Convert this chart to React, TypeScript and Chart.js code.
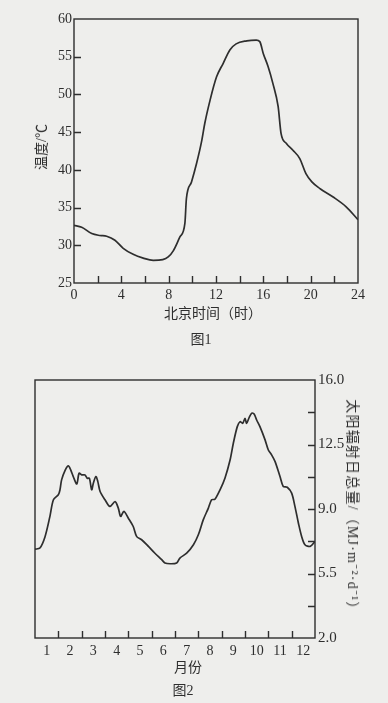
import React, { useEffect, useRef } from "react";
import { Chart, registerables } from "chart.js";

Chart.register(...registerables);

// ---------- Figure 1: temperature vs Beijing time ----------
const hours = [0, 0.65, 1.5, 2.2, 2.76, 3.46, 4.16, 5.0, 5.85, 6.7, 7.5, 7.96, 8.4, 8.95, 9.37, 9.5, 9.93, 10.35, 10.8, 11.05, 11.5, 12.04, 12.6, 13.17, 13.7, 14.6, 15.4, 15.7, 16.0, 16.4, 16.8, 17.25, 17.5, 17.95, 18.5, 19.08, 19.6, 20.1, 20.8, 21.9, 23.0, 24];
const temps = [32.65, 32.4, 31.55, 31.3, 31.2, 30.67, 29.6, 28.8, 28.3, 28.0, 28.1, 28.45, 29.3, 31.1, 32.9, 36.2, 38.4, 40.8, 43.9, 46.15, 49.25, 52.3, 54.1, 55.9, 56.7, 57.1, 57.2, 57.0, 55.4, 53.7, 51.5, 48.4, 44.8, 43.5, 42.6, 41.5, 39.5, 38.4, 37.5, 36.4, 35.1, 33.4];
const hourLabelTicks = [0, 4, 8, 12, 16, 20, 24];
const hourMarkTicks = [2, 4, 6, 8, 10, 12, 14, 16, 18, 20, 22];
const tempLabelTicks = [25, 30, 35, 40, 45, 50, 55, 60];
const tempMarkTicks = [30, 35, 40, 45, 50, 55];

// ---------- Figure 2: solar radiation vs month ----------
const radMonth = [0, 0.21, 0.43, 0.64, 0.79, 1.0, 1.07, 1.14, 1.29, 1.43, 1.53, 1.64, 1.79, 1.89, 2.0, 2.14, 2.24, 2.33, 2.43, 2.5, 2.61, 2.69, 2.79, 3.0, 3.21, 3.43, 3.57, 3.67, 3.81, 4.0, 4.21, 4.36, 4.57, 4.86, 5.14, 5.43, 5.57, 5.79, 6.07, 6.21, 6.5, 6.79, 7.0, 7.21, 7.43, 7.57, 7.71, 7.93, 8.14, 8.36, 8.5, 8.67, 8.79, 8.9, 9.0, 9.07, 9.19, 9.29, 9.39, 9.5, 9.64, 9.86, 10.0, 10.14, 10.29, 10.5, 10.64, 10.81, 11.0, 11.14, 11.29, 11.43, 11.57, 11.79, 12.0];
const radValue = [6.82, 6.88, 7.5, 8.6, 9.5, 9.77, 10.04, 10.58, 11.1, 11.34, 11.12, 10.76, 10.36, 10.94, 10.85, 10.85, 10.67, 10.67, 10.04, 10.4, 10.76, 10.5, 9.95, 9.5, 9.14, 9.4, 9.05, 8.6, 8.87, 8.5, 8.05, 7.5, 7.33, 6.97, 6.6, 6.25, 6.07, 6.03, 6.07, 6.34, 6.6, 7.06, 7.6, 8.41, 9.05, 9.5, 9.53, 10.04, 10.67, 11.66, 12.57, 13.47, 13.74, 13.65, 13.92, 13.65, 14.0, 14.2, 14.16, 13.83, 13.47, 12.75, 12.2, 11.94, 11.57, 10.76, 10.22, 10.18, 9.86, 9.14, 8.23, 7.5, 7.06, 6.97, 7.24];
const monthLabels = ["1", "2", "3", "4", "5", "6", "7", "8", "9", "10", "11", "12"];
const monthCenters = [0.5, 1.5, 2.5, 3.5, 4.5, 5.5, 6.5, 7.5, 8.5, 9.5, 10.5, 11.5];
const monthMarkTicks = [1, 2, 3, 4, 5, 6, 7, 8, 9, 10, 11];
const radLabelTicks = [2.0, 5.5, 9.0, 12.5, 16.0];
const radMarkTicks = [3.75, 5.5, 7.25, 9.0, 10.75, 12.5, 14.25];

const SERIF = '"Liberation Serif", "Times New Roman", serif';
const CJK = '"Liberation Serif", "Noto Sans CJK SC", serif';
const INK = "#2e2e2e";
const BG = "#eeeeec";

function framePlugin(xMarks: number[], yMarks: number[], yRight: boolean, len: number) {
  return {
    id: "frame",
    afterDraw(chart: any) {
      const { ctx, chartArea } = chart;
      const { left, right, top, bottom } = chartArea;
      ctx.save();
      ctx.strokeStyle = INK;
      ctx.lineWidth = 1.4;
      ctx.strokeRect(left, top, right - left, bottom - top);
      ctx.beginPath();
      for (const v of xMarks) {
        const px = Math.round(chart.scales.x.getPixelForValue(v)) + 0.5;
        ctx.moveTo(px, bottom);
        ctx.lineTo(px, bottom - len);
      }
      for (const v of yMarks) {
        const py = Math.round(chart.scales.y.getPixelForValue(v)) + 0.5;
        if (yRight) {
          ctx.moveTo(right, py);
          ctx.lineTo(right - len, py);
        } else {
          ctx.moveTo(left, py);
          ctx.lineTo(left + len, py);
        }
      }
      ctx.stroke();
      ctx.restore();
    },
  };
}

function TempChart() {
  const ref = useRef<HTMLCanvasElement>(null);
  useEffect(() => {
    const chart = new Chart(ref.current!, {
      type: "line",
      data: {
        datasets: [
          {
            data: hours.map((h, i) => ({ x: h, y: temps[i] })),
            borderColor: INK,
            borderWidth: 1.7,
            pointRadius: 0,
            cubicInterpolationMode: "monotone",
            fill: false,
          },
        ],
      },
      options: {
        responsive: false,
        animation: false,
        layout: { padding: { left: 0, right: 30, top: 19, bottom: 0 } },
        plugins: { legend: { display: false }, tooltip: { enabled: false } },
        scales: {
          x: {
            type: "linear",
            min: 0,
            max: 24,
            afterBuildTicks: (s: any) => {
              s.ticks = hourLabelTicks.map((v) => ({ value: v }));
            },
            afterFit: (s: any) => {
              s.height = 67;
            },
            ticks: { font: { family: SERIF, size: 14 }, color: INK, padding: 4, maxRotation: 0, autoSkip: false },
            grid: { display: false, drawTicks: false },
            border: { display: false },
          },
          y: {
            type: "linear",
            min: 25,
            max: 60,
            afterBuildTicks: (s: any) => {
              s.ticks = tempLabelTicks.map((v) => ({ value: v }));
            },
            afterFit: (s: any) => {
              s.width = 74;
            },
            ticks: { font: { family: SERIF, size: 14 }, color: INK, padding: 2, autoSkip: false },
            grid: { display: false, drawTicks: false },
            border: { display: false },
          },
        },
      },
      plugins: [framePlugin(hourMarkTicks, tempMarkTicks, false, 7)],
    } as any);
    return () => chart.destroy();
  }, []);
  return <canvas ref={ref} width={388} height={350} style={{ position: "absolute", left: 0, top: 0, display: "block" }} />;
}

function RadChart() {
  const ref = useRef<HTMLCanvasElement>(null);
  useEffect(() => {
    const chart = new Chart(ref.current!, {
      type: "line",
      data: {
        datasets: [
          {
            data: radMonth.map((m, i) => ({ x: m, y: radValue[i] })),
            borderColor: INK,
            borderWidth: 1.7,
            pointRadius: 0,
            tension: 0.3,
            fill: false,
          },
        ],
      },
      options: {
        responsive: false,
        animation: false,
        layout: { padding: { left: 35, right: 0, top: 20, bottom: 0 } },
        plugins: { legend: { display: false }, tooltip: { enabled: false } },
        scales: {
          x: {
            type: "linear",
            min: 0,
            max: 12,
            afterBuildTicks: (s: any) => {
              s.ticks = monthCenters.map((v) => ({ value: v }));
            },
            afterFit: (s: any) => {
              s.height = 65;
            },
            ticks: {
              font: { family: SERIF, size: 14 },
              color: INK,
              padding: 5,
              maxRotation: 0,
              autoSkip: false,
              callback: (_v: any, i: number) => monthLabels[i],
            },
            grid: { display: false, drawTicks: false },
            border: { display: false },
          },
          y: {
            type: "linear",
            position: "right",
            min: 2,
            max: 16,
            afterBuildTicks: (s: any) => {
              s.ticks = radLabelTicks.map((v) => ({ value: v }));
            },
            afterFit: (s: any) => {
              s.width = 73;
            },
            ticks: {
              font: { family: SERIF, size: 15 },
              color: INK,
              padding: 3,
              autoSkip: false,
              callback: (v: any) => Number(v).toFixed(1),
            },
            grid: { display: false, drawTicks: false },
            border: { display: false },
          },
        },
      },
      plugins: [framePlugin(monthMarkTicks, radMarkTicks, true, 7)],
    } as any);
    return () => chart.destroy();
  }, []);
  return <canvas ref={ref} width={388} height={343} style={{ position: "absolute", left: 0, top: 360, display: "block" }} />;
}

const label = (x: number, y: number, size: number, rot = 0, spacing = 0): React.CSSProperties => ({
  position: "absolute",
  left: x,
  top: y,
  transform: `translate(-50%, -50%) rotate(${rot}deg)`,
  fontFamily: CJK,
  fontSize: size,
  color: INK,
  whiteSpace: "nowrap",
  lineHeight: 1,
  letterSpacing: spacing,
});

export default function App() {
  return (
    <div style={{ position: "absolute", left: 0, top: 0, width: 388, height: 703, background: BG, overflow: "hidden" }}>
      <TempChart />
      <RadChart />
      <div style={label(42, 147, 14, -90)}>温度/℃</div>
      <div style={label(213, 314, 14)}>北京时间（时）</div>
      <div style={label(201, 340, 14)}>图1</div>
      <div style={label(352, 508, 14, 90, 1.2)}>太阳辐射日总量/（MJ·m⁻²·d⁻¹）</div>
      <div style={label(188, 668, 14)}>月份</div>
      <div style={label(183, 691, 14)}>图2</div>
    </div>
  );
}
